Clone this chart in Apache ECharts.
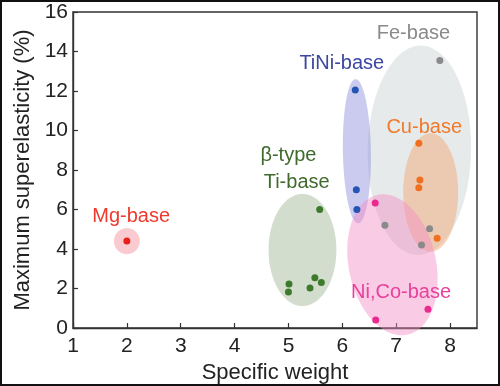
<!DOCTYPE html>
<html><head><meta charset="utf-8">
<script src="https://cdn.jsdelivr.net/npm/echarts@6/dist/echarts.min.js"></script>
<style>html,body{margin:0;padding:0;background:#fff}#c{width:500px;height:386px}</style>
</head><body><div id="c"></div><script>
// Data
const groupNames = ['Fe-base', 'β-type Ti-base', 'TiNi-base', 'Cu-base', 'Ni,Co-base', 'Mg-base'];
const mgPoints   = [[2.0, 4.4]];
const tiniPoints = [[6.24, 12.05], [6.26, 7.0], [6.27, 6.0]];
const fePoints   = [[7.81, 13.55], [6.79, 5.2], [7.62, 5.03], [7.47, 4.2]];
const cuPoints   = [[7.42, 9.35], [7.44, 7.5], [7.42, 7.1], [7.76, 4.54]];
const nicoPoints = [[6.61, 6.33], [7.59, 0.95], [6.62, 0.4]];
const tiPoints   = [[5.58, 6.0], [5.01, 2.23], [5.0, 1.82], [5.49, 2.55], [5.61, 2.31], [5.40, 2.03]];
// ellipse regions: [centerX, centerY, radiusX, radiusY, tiltDeg]
const feRegion   = [7.43, 9.0, 0.96, 5.3, 1];
const tiRegion   = [5.26, 3.95, 0.63, 2.84, 0];
const tiniRegion = [6.27, 8.95, 0.26, 3.65, -1];
const cuRegion   = [7.64, 6.86, 0.51, 3.0, 0];
const nicoRegion = [6.93, 3.2, 0.81, 3.62, -12];
const mgRegion   = [2.0, 4.4, 0.24, 0.66, 0];
const xTicks = [1, 2, 3, 4, 5, 6, 7, 8];
const yTicks = [0, 2, 4, 6, 8, 10, 12, 14, 16];
// label texts anchored in data space
const labelTexts = ['Fe-base', 'TiNi-base', 'Cu-base', 'β-type', 'Ti-base', 'Ni,Co-base', 'Mg-base'];
const labelAnchors = [[7.32, 14.89], [5.99, 13.37], [7.52, 10.15], [4.48, 8.71], [4.54, 7.39], [7.09, 1.82], [2.08, 5.65]];

// Styles
const FONT = 'Liberation Sans, Arial, sans-serif';
const regionFill = ['rgba(214,220,220,0.6)', 'rgba(168,188,158,0.5)', 'rgba(140,140,220,0.45)',
                    'rgba(242,170,120,0.5)', 'rgba(245,140,195,0.45)', 'rgba(242,140,150,0.45)'];
const labelColors = ['#8a8a8a', '#3b47a0', '#f07a2a', '#3f6a2c', '#3f6a2c', '#e8409c', '#ee3a2c'];
const labelAlign = ['center', 'center', 'center', 'left', 'left', 'center', 'center'];

const regions = [feRegion, tiRegion, tiniRegion, cuRegion, nicoRegion, mgRegion];
const regionData = regions.map((r, i) => r.concat([i]));
const labelData = labelAnchors.map((a, i) => [a[0], a[1], i]);

function ellipseItem(params, api) {
  const c = api.coord([api.value(0), api.value(1)]);
  const s = api.size([api.value(2), api.value(3)]);
  const th = api.value(4) * Math.PI / 180;
  const idx = api.value(5);
  const pts = [];
  for (let i = 0; i < 90; i++) {
    const t = i / 90 * 2 * Math.PI;
    const x = s[0] * Math.cos(t), y = s[1] * Math.sin(t);
    pts.push([c[0] + x * Math.cos(th) - y * Math.sin(th), c[1] + x * Math.sin(th) + y * Math.cos(th)]);
  }
  return { type: 'polygon', shape: { points: pts }, style: { fill: regionFill[idx] } };
}
function labelItem(params, api) {
  const c = api.coord([api.value(0), api.value(1)]);
  const i = api.value(2);
  return { type: 'text', x: c[0], y: c[1], style: {
    text: labelTexts[i], fill: labelColors[i], font: '20px ' + FONT,
    align: labelAlign[i], verticalAlign: 'middle' } };
}
function scatter(name, pts, color) {
  return { type: 'scatter', name, data: pts, symbolSize: 7, z: 5,
           itemStyle: { color: color, opacity: 1 } };
}

const chart = echarts.init(document.getElementById('c'), null, { renderer: 'canvas' });
chart.setOption({
  animation: false,
  backgroundColor: '#fff',
  grid: { left: 73, right: 23, top: 12, bottom: 58, show: true, borderColor: '#333', borderWidth: 1.4,
          backgroundColor: 'transparent', containLabel: false, outerBoundsMode: 'none' },
  xAxis: {
    type: 'value', min: 1, max: 8.5, interval: 1,
    name: 'Specific weight', nameLocation: 'middle', nameGap: 33,
    nameTextStyle: { fontFamily: FONT, fontSize: 22, color: '#222' },
    axisLine: { lineStyle: { color: '#333', width: 1.4 } },
    axisTick: { inside: true, length: 5, lineStyle: { color: '#333', width: 1.2 } },
    axisLabel: { fontFamily: FONT, fontSize: 21, color: '#222', margin: 8, showMaxLabel: false,
                 formatter: v => xTicks.indexOf(v) >= 0 ? String(v) : '' },
    splitLine: { show: false }
  },
  yAxis: {
    type: 'value', min: 0, max: 16, interval: 2,
    name: 'Maximum superelasticity (%)', nameLocation: 'middle', nameGap: 35,
    nameTextStyle: { fontFamily: FONT, fontSize: 22, color: '#222' },
    axisLine: { lineStyle: { color: '#333', width: 1.4 } },
    axisTick: { inside: true, length: 5, lineStyle: { color: '#333', width: 1.2 } },
    axisLabel: { fontFamily: FONT, fontSize: 21, color: '#222', margin: 5,
                 formatter: v => yTicks.indexOf(v) >= 0 ? String(v) : '' },
    splitLine: { show: false }
  },
  graphic: [{ type: 'rect', shape: { x: 1, y: 1, width: 498, height: 384 }, style: { fill: 'none', stroke: '#111', lineWidth: 2 }, z: 100 }],
  series: [
    { type: 'custom', renderItem: ellipseItem, data: regionData, clip: false, z: 1, silent: true,
      encode: { x: 0, y: 1 } },
    scatter('Fe-base', fePoints, '#8a8a8a'),
    scatter('β-type Ti-base', tiPoints, '#3e7a2c'),
    scatter('TiNi-base', tiniPoints, '#2454b4'),
    scatter('Cu-base', cuPoints, '#f07020'),
    scatter('Ni,Co-base', nicoPoints, '#ea2a90'),
    scatter('Mg-base', mgPoints, '#e8201c'),
    { type: 'custom', renderItem: labelItem, data: labelData, clip: false, z: 10, silent: true,
      encode: { x: 0, y: 1 } }
  ]
});
</script></body></html>
